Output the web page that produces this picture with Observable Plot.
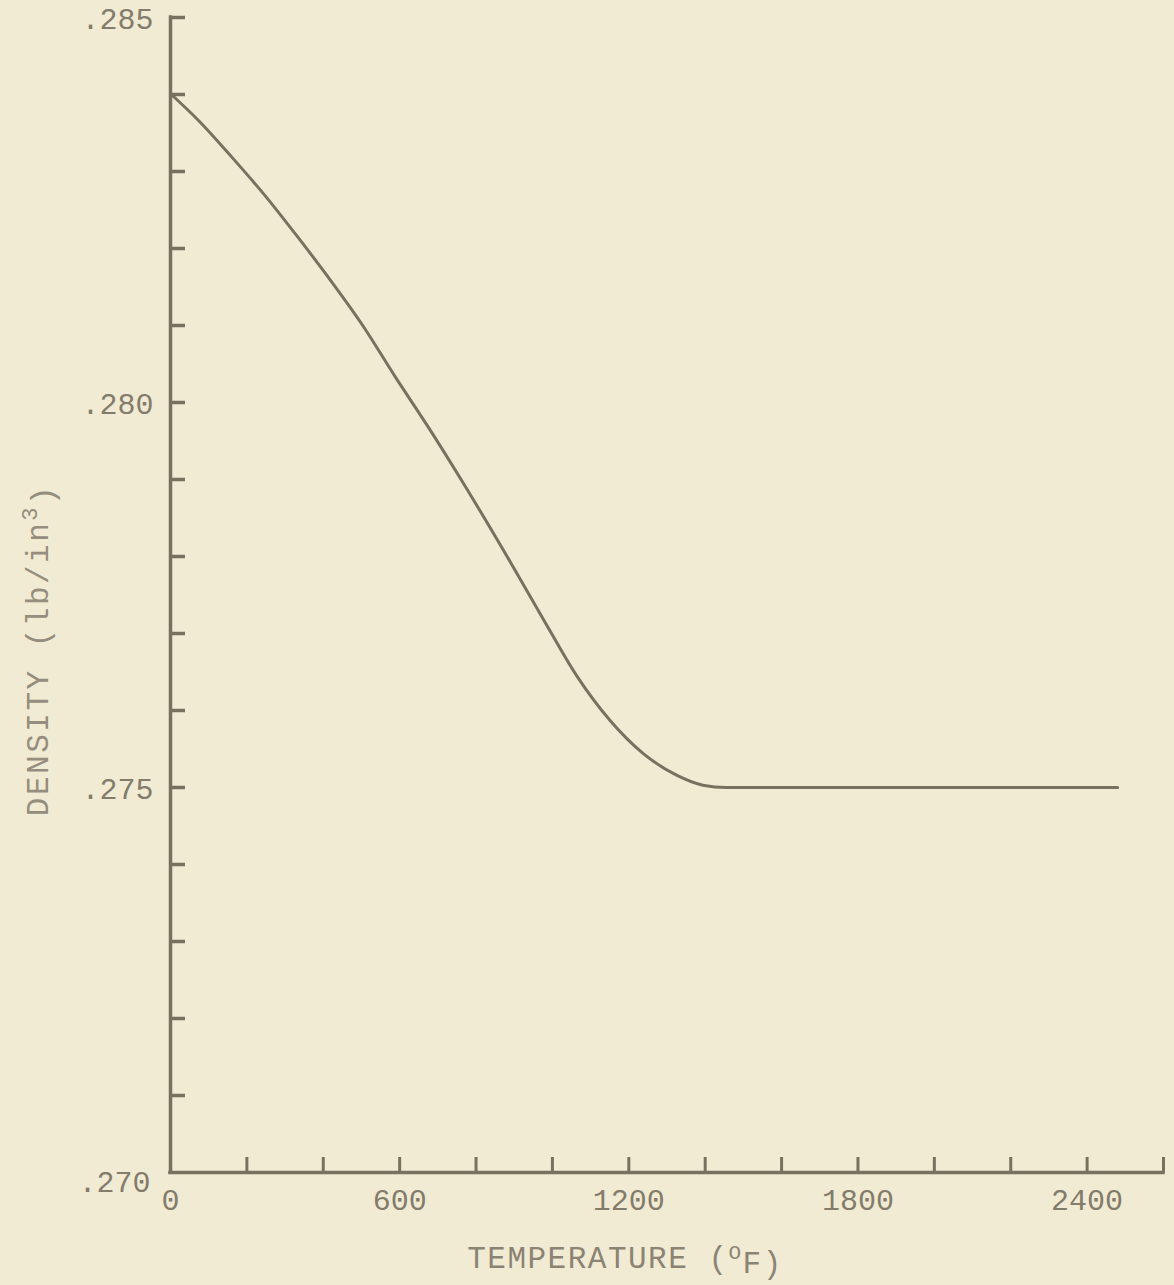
<!DOCTYPE html>
<html>
<head>
<meta charset="utf-8">
<script src="https://cdn.jsdelivr.net/npm/d3@7"></script>
<script src="https://cdn.jsdelivr.net/npm/@observablehq/plot@0.6"></script>
<style>
  html, body { margin: 0; padding: 0; background: #f1ebd3; }
  #chart svg { display: block; }
</style>
</head>
<body>
<div id="chart"></div>
<script>
// Temperature (°F) and density (lb/in^3)
const temperature = [0, 74, 160, 247, 333, 420, 502, 589, 675, 762, 892, 978, 1065, 1151, 1238, 1325, 1394, 1455, 1800, 2100, 2480];
const density = [0.28401, 0.28366, 0.28319, 0.28269, 0.28215, 0.28158, 0.28101, 0.28033, 0.27968, 0.27899, 0.27791, 0.27717, 0.27644, 0.27587, 0.27544, 0.27516, 0.27503, 0.27500, 0.27500, 0.27500, 0.27500];

// Axis tick values
const xLabelTicks = [0, 600, 1200, 1800, 2400];
const xMinorTicks = [200, 400, 600, 800, 1000, 1200, 1400, 1600, 1800, 2000, 2200, 2400, 2600];
const yLabelTicks = [0.275, 0.280, 0.285];
const yBottomLabel = [0.270];
const yMinorTicks = [0.271, 0.272, 0.273, 0.274, 0.275, 0.276, 0.277, 0.278, 0.279, 0.280, 0.281, 0.282, 0.283, 0.284, 0.285];
const xDomain = [0, 2600];
const yDomain = [0.270, 0.285];

const xTitle = "TEMPERATURE (°F)";
const yTitle = "DENSITY (lb/in³)";

const data = temperature.map((t, i) => ({t, d: density[i]}));

const W = 1174, H = 1285;
const mL = 170, mR = 11, mT = 17, mB = 113;
const plotW = W - mL - mR, plotH = H - mT - mB;
const ink = "#797060";
const textInk = "#837b6b";
const tick = 15;
const yFmt = d => d.toFixed(3).replace(/^0/, "");

const chart = Plot.plot({
  width: W, height: H,
  marginLeft: mL, marginRight: mR, marginTop: mT, marginBottom: mB,
  style: {background: "#f1ebd3", fontFamily: "'Liberation Mono', 'DejaVu Sans Mono', monospace", fontSize: "30px", color: textInk},
  x: {domain: xDomain},
  y: {domain: yDomain},
  marks: [
    Plot.axisX(xLabelTicks, {tickSize: 0, tickPadding: 16, label: null, fill: textInk, fontSize: 30, tickFormat: d3.format("d")}),
    Plot.axisY(yLabelTicks, {tickSize: 0, tickPadding: 17, label: null, fill: textInk, fontSize: 30, dy: 2, tickFormat: yFmt}),
    Plot.axisY(yBottomLabel, {tickSize: 0, tickPadding: 20, label: null, fill: textInk, fontSize: 30, dy: 10, tickFormat: yFmt}),
    Plot.ruleX(xMinorTicks, {stroke: ink, strokeWidth: 3, insetTop: plotH - tick}),
    Plot.ruleY(yMinorTicks, {stroke: ink, strokeWidth: 3.5, insetRight: plotW - tick}),
    Plot.ruleX([xDomain[0]], {stroke: ink, strokeWidth: 3.5, strokeLinecap: "square"}),
    Plot.ruleY([yDomain[0]], {stroke: ink, strokeWidth: 3.5, strokeLinecap: "square"}),
    Plot.line(data, {x: "t", y: "d", curve: "monotone-x", stroke: ink, strokeWidth: 3}),
    Plot.text([xTitle], {frameAnchor: "bottom", textAnchor: "middle", lineAnchor: "middle", dx: -42, dy: 86, fill: "#8b8373", fontSize: 31}),
    Plot.text([yTitle], {frameAnchor: "left", textAnchor: "middle", lineAnchor: "middle", rotate: -90, dx: -132, dy: 55, fill: "#958d7d", fontSize: 31})
  ]
});

// Raised superscripts like the typewritten original
d3.select(chart).selectAll("text").each(function() {
  const t = d3.select(this);
  if (this.textContent === xTitle) {
    t.text(null).attr("letter-spacing", "1.5px");
    t.append("tspan").text("TEMPERATURE (");
    t.append("tspan").attr("dy", "-0.45em").attr("font-size", "21px").text("O");
    t.append("tspan").attr("dy", "0.45em").text("F)");
  } else if (this.textContent === yTitle) {
    t.text(null).attr("letter-spacing", "2.5px");
    t.append("tspan").text("DENSITY (lb/in");
    t.append("tspan").attr("dy", "-0.5em").attr("font-size", "22px").text("3");
    t.append("tspan").attr("dy", "0.5em").text(")");
  }
});

document.getElementById("chart").appendChild(chart);
</script>
</body>
</html>
